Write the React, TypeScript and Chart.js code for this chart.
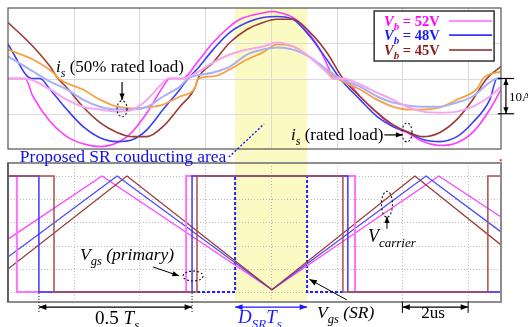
import React, { useEffect, useRef } from "react";
import { Chart, registerables } from "chart.js";

Chart.register(...registerables);

// ---------- axes (time in us, 2 us / division) ----------
const T_MIN = 0;
const T_MAX = 15;
const GRID_T = [2, 4, 6, 8, 10, 12, 14];
const GRID_A = [-10, 0, 10];
const GRID_V = [0, 1, 2, 3, 4, 5];
const TOP_A = [-20, 20];
const BOT_V = [-0.43, 5.56];
const SR_WINDOW = [6.91, 9.1];

// ---------- top panel: i_s (A), rated load ----------
const T_MAG = [0, 0.52, 0.76, 1.28, 1.79, 2.28, 2.8, 3.32, 3.71, 4.23, 4.72, 4.93, 5.32, 5.75, 6.24, 6.75, 7.06, 7.76, 8.05, 8.3, 8.67, 8.97, 9.49, 9.8, 9.89, 10.19, 10.71, 11.23, 11.71, 12.14, 12.63, 13.14, 13.66, 14.14, 14.66, 15];
const I_MAG = [0, 0, -5.1, -12.2, -16.5, -18.5, -19.3, -18.2, -15.8, -9.7, -2.3, 0, 0, 4.5, 10.2, 14.8, 16.8, 18.6, 19.0, 18.6, 17.3, 14.8, 8.2, 2.0, 0, 0, -5.1, -9.7, -13.6, -15.3, -17.9, -19.0, -18.2, -15.3, -8.8, -3.1];

const T_BLU = [0, 0.73, 0.97, 1.28, 1.79, 2.28, 2.8, 3.32, 3.8, 4.23, 4.72, 5.23, 5.48, 5.75, 6.24, 6.75, 7.27, 7.76, 8.18, 8.67, 9.19, 9.7, 10.1, 10.71, 11.23, 11.71, 12.14, 12.63, 13.14, 13.66, 14.14, 14.66, 14.88, 15];
const I_BLU = [9.7, 0, 0, -3.1, -8.8, -13.6, -16.8, -17.9, -17.3, -14.5, -8.8, -3.1, 0, 2.6, 8.2, 13.1, 15.9, 17.3, 17.6, 16.8, 11.9, 5.4, 0, -6.0, -10.8, -13.6, -15.1, -17.3, -17.9, -16.5, -12.5, -6.0, 0, 0];

const T_BRN = [0, 0.76, 1.28, 1.52, 1.79, 2.28, 2.8, 3.32, 3.8, 4.23, 4.72, 5.23, 5.69, 5.78, 6.24, 6.75, 7.27, 7.76, 8.18, 8.67, 9.19, 9.7, 10.19, 10.71, 11.23, 11.71, 12.14, 12.63, 13.14, 13.66, 14.14, 14.57, 15];
const I_BRN = [15.9, 9.1, 3.4, 0, -2.6, -8.0, -12.5, -15.3, -16.5, -16.5, -13.6, -8.0, -2.6, 0, 4.5, 10.2, 13.9, 15.9, 16.8, 16.8, 13.1, 7.4, 0, -5.1, -9.7, -13.1, -15.1, -16.5, -15.3, -11.6, -6.0, 0, 3.4];

// ---------- top panel: i_s (A), 50% rated load ----------
const T_ORA = [0, 0.76, 1.37, 1.58, 2.28, 2.8, 3.32, 3.8, 4.23, 4.72, 5.23, 5.69, 5.78, 6.24, 6.75, 7.27, 7.76, 8.18, 8.67, 9.19, 9.7, 10.01, 10.71, 11.23, 11.71, 12.14, 12.63, 13.14, 13.66, 14.3, 14.45, 15];
const I_ORA = [8.2, 5.4, 1.7, -0.3, -3.1, -6.0, -8.0, -8.5, -8.2, -7.4, -5.1, -2.6, 0, 0.6, 2.6, 5.4, 7.4, 9.7, 9.1, 6.0, 2.0, 0, -3.1, -6.0, -8.0, -8.8, -8.8, -8.2, -6.0, -2.6, 0, 2.0];

const T_LBL = [0, 0.76, 1.28, 1.79, 2.28, 2.8, 3.32, 3.8, 4.23, 4.72, 5.23, 5.48, 6.24, 6.75, 7.27, 7.76, 8.18, 8.67, 9.19, 9.7, 10.1, 10.71, 11.23, 11.71, 12.63, 13.14, 13.66, 14.14, 14.66, 14.88, 15];
const I_LBL = [6.25, 2.0, -0.9, -3.1, -6.0, -8.0, -8.8, -8.8, -8.0, -5.1, -2.3, 0, 1.7, 3.4, 6.8, 8.2, 8.8, 8.2, 6.0, 2.6, 0, -2.3, -5.1, -6.8, -8.0, -8.0, -6.8, -5.1, -1.1, 0, 0];

const T_LPK = [0, 0.52, 1.28, 1.79, 2.28, 2.8, 3.32, 3.8, 4.23, 4.72, 4.87, 5.32, 5.75, 6.24, 6.75, 7.27, 7.76, 8.18, 8.67, 9.19, 9.7, 9.89, 10.19, 10.71, 11.23, 11.71, 12.14, 12.63, 13.14, 13.66, 14.14, 14.66, 15];
const I_LPK = [0, 0, -3.1, -6.0, -8.0, -8.8, -9.4, -8.8, -6.0, -1.1, 0, 0, 1.7, 4.5, 6.8, 8.2, 9.1, 10.2, 9.1, 6.0, 1.7, 0, 0, -1.7, -4.0, -6.0, -8.0, -9.4, -9.7, -9.4, -8.0, -5.1, -2.3];

// ---------- bottom panel: gate signals / carriers (div) ----------
const T_PWM_MAG = [0, 0.27, 0.27, 5.42, 5.42, 10.56, 10.56, 15];
const V_PWM_MAG = [5, 5, 0, 0, 5, 5, 0, 0];
const T_PWM_BLU = [0, 0.94, 0.94, 5.6, 5.6, 10.34, 10.34, 15];
const V_PWM_BLU = [5, 5, 0, 0, 5, 5, 0, 0];
const T_PWM_BRN = [0, 1.4, 1.4, 5.75, 5.75, 10.19, 10.19, 14.6, 14.6, 15];
const V_PWM_BRN = [5, 5, 0, 0, 5, 5, 0, 0, 5, 5];

const T_CAR_MAG = [0, 2.86, 8.03, 13.11, 15];
const V_CAR_MAG = [2.28, 5, 0.1, 5, 3.23];
const T_CAR_BLU = [0, 3.32, 8.03, 12.72, 15];
const V_CAR_BLU = [1.51, 5, 0.1, 5, 2.59];
const T_CAR_BRN = [0, 3.62, 8.03, 12.38, 15];
const V_CAR_BRN = [0.99, 5, 0.1, 5, 2.03];

const T_SR = [5.6, 6.91, 6.91, 9.1, 9.1, 10.22];
const V_SR = [0, 0, 5, 5, 0, 0];

const LEGEND = [
  { label: "52V", text: "#ff00ff", line: "#ff66ff" },
  { label: "48V", text: "#1a1aff", line: "#3535ff" },
  { label: "45V", text: "#8b1a1a", line: "#8b2222" },
];

const pts = (t: number[], v: number[]) => t.map((x, i) => ({ x, y: v[i] }));

const FONT = '"Liberation Serif", "Times New Roman", serif';

type Seg = { t: string; sub?: boolean; it?: boolean; b?: boolean };

function rich(ctx: CanvasRenderingContext2D, x: number, y: number, segs: Seg[], size: number, color: string, subSize?: number) {
  let cx = x;
  ctx.fillStyle = color;
  ctx.textBaseline = "alphabetic";
  ctx.textAlign = "left";
  for (const s of segs) {
    const fs = s.sub ? subSize ?? size * 0.68 : size;
    ctx.font = `${s.it ? "italic " : ""}${s.b ? "bold " : ""}${fs}px ${FONT}`;
    ctx.fillText(s.t, cx, s.sub ? y + size * 0.28 : y);
    cx += ctx.measureText(s.t).width;
  }
  return cx;
}

function head(ctx: CanvasRenderingContext2D, x1: number, y1: number, x2: number, y2: number, size: number) {
  const a = Math.atan2(y2 - y1, x2 - x1);
  ctx.beginPath();
  ctx.moveTo(x2, y2);
  ctx.lineTo(x2 - size * Math.cos(a - 0.38), y2 - size * Math.sin(a - 0.38));
  ctx.lineTo(x2 - size * Math.cos(a + 0.38), y2 - size * Math.sin(a + 0.38));
  ctx.closePath();
  ctx.fill();
}

function arrow(ctx: CanvasRenderingContext2D, x1: number, y1: number, x2: number, y2: number, color: string, both = false, size = 8, lw = 1.2) {
  ctx.strokeStyle = color;
  ctx.fillStyle = color;
  ctx.lineWidth = lw;
  ctx.setLineDash([]);
  ctx.beginPath();
  ctx.moveTo(x1, y1);
  ctx.lineTo(x2, y2);
  ctx.stroke();
  head(ctx, x1, y1, x2, y2, size);
  if (both) head(ctx, x2, y2, x1, y1, size);
}

function dashEllipse(ctx: CanvasRenderingContext2D, cx: number, cy: number, rx: number, ry: number) {
  ctx.save();
  ctx.strokeStyle = "#111";
  ctx.lineWidth = 1.1;
  ctx.setLineDash([2, 2]);
  ctx.beginPath();
  ctx.ellipse(cx, cy, rx, ry, 0, 0, Math.PI * 2);
  ctx.stroke();
  ctx.restore();
}

const scopePlugin = {
  id: "scope",
  beforeDatasetsDraw(chart: any) {
    const { ctx, chartArea: ca, scales } = chart;
    const X = scales.x, YA = scales.yA, YV = scales.yV;
    ctx.save();
    // SR conducting area
    const x0 = X.getPixelForValue(SR_WINDOW[0]);
    const x1 = X.getPixelForValue(SR_WINDOW[1]);
    ctx.fillStyle = "#fafac2";
    ctx.fillRect(x0, ca.top, x1 - x0, YV.getPixelForValue(-0.48) - ca.top);

    // top grid
    const tT = YA.getPixelForValue(TOP_A[1]);
    const tB = YA.getPixelForValue(TOP_A[0]);
    ctx.strokeStyle = "#dadada";
    ctx.lineWidth = 1;
    for (const g of GRID_T) {
      const p = Math.round(X.getPixelForValue(g)) + 0.5;
      ctx.beginPath(); ctx.moveTo(p, tT); ctx.lineTo(p, tB); ctx.stroke();
    }
    for (const g of GRID_A) {
      const p = Math.round(YA.getPixelForValue(g)) + 0.5;
      ctx.beginPath(); ctx.moveTo(ca.left, p); ctx.lineTo(ca.right, p); ctx.stroke();
    }
    // bottom grid (dotted)
    const bT = YV.getPixelForValue(BOT_V[1]);
    const bB = YV.getPixelForValue(BOT_V[0]);
    ctx.strokeStyle = "#bdbdbd";
    ctx.setLineDash([1, 2]);
    for (const g of GRID_T) {
      const p = Math.round(X.getPixelForValue(g)) + 0.5;
      ctx.beginPath(); ctx.moveTo(p, bT); ctx.lineTo(p, bB); ctx.stroke();
    }
    for (const g of GRID_V) {
      const p = Math.round(YV.getPixelForValue(g)) + 0.5;
      ctx.beginPath(); ctx.moveTo(ca.left, p); ctx.lineTo(ca.right, p); ctx.stroke();
    }
    ctx.restore();
  },
  afterDatasetsDraw(chart: any) {
    const { ctx, chartArea: ca, scales } = chart;
    const X = scales.x, YA = scales.yA, YV = scales.yV;
    const px = (t: number) => X.getPixelForValue(t);
    const pa = (a: number) => YA.getPixelForValue(a);
    const pv = (v: number) => YV.getPixelForValue(v);
    ctx.save();

    // panel borders
    const tT = pa(TOP_A[1]), tB = pa(TOP_A[0]);
    const bT = pv(BOT_V[1]), bB = pv(BOT_V[0]);
    ctx.setLineDash([]);
    ctx.strokeStyle = "#555";
    ctx.lineWidth = 1.2;
    ctx.strokeRect(ca.left, tT, ca.right - ca.left, tB - tT);
    ctx.strokeStyle = "#8c8c8c";
    ctx.lineWidth = 2;
    ctx.strokeRect(ca.left, bT, ca.right - ca.left, bB - bT);
    ctx.strokeStyle = "#444";
    ctx.lineWidth = 1.2;
    ctx.beginPath(); ctx.moveTo(ca.left, bT); ctx.lineTo(ca.left, bB); ctx.stroke();
    ctx.fillStyle = "#ff2020";
    ctx.fillRect(px(14.96), pa(-22.9), 2, 2);

    // legend box
    const lx0 = px(11.14), lx1 = px(14.79), ly0 = pa(19.15), ly1 = pa(4.96);
    ctx.fillStyle = "#fff";
    ctx.fillRect(lx0, ly0, lx1 - lx0, ly1 - ly0);
    ctx.strokeStyle = "#222";
    ctx.lineWidth = 1.4;
    ctx.strokeRect(lx0, ly0, lx1 - lx0, ly1 - ly0);
    const rowBase = [14.9, 11.0, 6.6];
    const rowLine = [16.3, 12.3, 8.1];
    LEGEND.forEach((l, i) => {
      rich(ctx, px(11.44), pa(rowBase[i]), [
        { t: "V", it: true, b: true },
        { t: "b", it: true, b: true, sub: true },
        { t: " = " + l.label, b: true },
      ], 14.5, l.text, 11);
      ctx.strokeStyle = l.line;
      ctx.lineWidth = 1.6;
      ctx.beginPath(); ctx.moveTo(px(13.42), pa(rowLine[i])); ctx.lineTo(px(14.73), pa(rowLine[i])); ctx.stroke();
    });

    // i_s (50% rated load)
    rich(ctx, px(1.46), pa(1.8), [{ t: "i", it: true }, { t: "s", it: true, sub: true }, { t: " (50% rated load)" }], 17, "#000", 12);
    arrow(ctx, px(3.47), pa(-1.0), px(3.47), pa(-6.1), "#000", false, 7);
    dashEllipse(ctx, px(3.47), pa(-8.6), 5, 8);

    // i_s (rated load)
    const ex = rich(ctx, px(8.61), pa(-17.5), [{ t: "i", it: true }, { t: "s", it: true, sub: true }, { t: " (rated load)" }], 17, "#000", 12);
    arrow(ctx, ex + 1, pa(-16.0), px(12.0), pa(-16.0), "#000", false, 7);
    dashEllipse(ctx, px(12.14), pa(-15.3), 5, 9.5);

    // 10A
    arrow(ctx, px(15.15), pa(0), px(15.15), pa(-10), "#000", true, 7);
    ctx.strokeStyle = "#000";
    ctx.lineWidth = 1.2;
    for (const a of [0, -10]) {
      ctx.beginPath(); ctx.moveTo(px(14.9), pa(a)); ctx.lineTo(px(15.4), pa(a)); ctx.stroke();
    }
    rich(ctx, px(15.24), pa(-6.4), [{ t: "10A" }], 13, "#000");

    // Proposed SR conducting area
    rich(ctx, px(0.36), pa(-23.7), [{ t: "Proposed SR couducting area" }], 17.5, "#1010ee");
    ctx.strokeStyle = "#1a1aff";
    ctx.lineWidth = 1.4;
    ctx.setLineDash([2, 2]);
    ctx.beginPath(); ctx.moveTo(px(6.72), pa(-22.3)); ctx.lineTo(px(7.79), pa(-12.9)); ctx.stroke();
    ctx.setLineDash([]);

    // V_gs (primary)
    rich(ctx, px(2.19), pv(1.38), [{ t: "V", it: true }, { t: "gs", it: true, sub: true }, { t: " (primary)", it: true }], 17.5, "#000", 12.5);
    arrow(ctx, px(4.41), pv(1.08), px(5.2), pv(0.7), "#000", false, 7, 1);
    dashEllipse(ctx, px(5.63), pv(0.69), 10, 5);

    // 0.5 Ts
    ctx.strokeStyle = "#000";
    ctx.lineWidth = 1;
    ctx.setLineDash([1, 2]);
    for (const t of [0.94, 5.6]) {
      ctx.beginPath(); ctx.moveTo(px(t), pv(-0.04)); ctx.lineTo(px(t), pv(-0.9)); ctx.stroke();
    }
    ctx.setLineDash([]);
    arrow(ctx, px(0.94), pv(-0.65), px(5.6), pv(-0.65), "#000", true, 8);
    rich(ctx, px(2.65), pv(-1.36), [{ t: "0.5 " }, { t: "T", it: true }, { t: "s", it: true, sub: true }], 19, "#000", 13);

    // D_SR Ts
    arrow(ctx, px(SR_WINDOW[0]), pv(-0.65), px(SR_WINDOW[1]), pv(-0.65), "#1a1aff", true, 8, 1.4);
    rich(ctx, px(7.0), pv(-1.32), [{ t: "D", it: true }, { t: "SR", it: true, sub: true }, { t: "T", it: true }, { t: "s", it: true, sub: true }], 19, "#1a1aff", 13);

    // V_gs (SR)
    rich(ctx, px(9.4), pv(-1.12), [{ t: "V", it: true }, { t: "gs", it: true, sub: true }, { t: " (SR)", it: true }], 17.5, "#000", 12.5);
    arrow(ctx, px(10.31), pv(-0.34), px(9.17), pv(0.55), "#000", false, 8, 1);

    // V_carrier
    rich(ctx, px(10.95), pv(2.15), [{ t: "V", it: true }, { t: "carrier", it: true, sub: true }], 18, "#000", 13);
    arrow(ctx, px(11.53), pv(2.72), px(11.53), pv(3.25), "#000", false, 7, 1);
    dashEllipse(ctx, px(11.53), pv(3.78), 5.5, 13);

    // 2us
    ctx.strokeStyle = "#000";
    ctx.lineWidth = 1;
    for (const t of [12, 14]) {
      ctx.beginPath(); ctx.moveTo(px(t), pv(-0.4)); ctx.lineTo(px(t), pv(-0.9)); ctx.stroke();
    }
    arrow(ctx, px(12), pv(-0.65), px(14), pv(-0.65), "#000", true, 8);
    rich(ctx, px(12.57), pv(-1.12), [{ t: "2us" }], 17, "#000");

    ctx.restore();
  },
};

export default function App() {
  const ref = useRef<HTMLCanvasElement | null>(null);
  useEffect(() => {
    if (!ref.current) return;
    const cur = (t: number[], v: number[], color: string, w: number) => ({
      data: pts(t, v), borderColor: color, borderWidth: w, yAxisID: "yA",
      cubicInterpolationMode: "monotone" as const, pointRadius: 0, fill: false,
    });
    const sig = (t: number[], v: number[], color: string, w: number, dash: number[] = []) => ({
      data: pts(t, v), borderColor: color, borderWidth: w, yAxisID: "yV",
      tension: 0, pointRadius: 0, fill: false, borderDash: dash,
    });
    const chart = new Chart(ref.current, {
      type: "line",
      data: {
        datasets: [
          cur(T_LPK, I_LPK, "#f6a6ee", 2),
          cur(T_LBL, I_LBL, "#a9b1f6", 2),
          cur(T_ORA, I_ORA, "#f7a044", 1.8),
          cur(T_BRN, I_BRN, "#9a3b35", 1.6),
          cur(T_BLU, I_BLU, "#3d3dfa", 1.6),
          cur(T_MAG, I_MAG, "#ff3cff", 1.6),
          sig(T_PWM_BRN, V_PWM_BRN, "#a8504a", 1.5),
          sig(T_PWM_BLU, V_PWM_BLU, "#3a3aff", 1.5),
          sig(T_PWM_MAG, V_PWM_MAG, "#ff70ff", 2),
          sig(T_CAR_BRN, V_CAR_BRN, "#9a3b35", 1.3),
          sig(T_CAR_BLU, V_CAR_BLU, "#4a4aff", 1.3),
          sig(T_CAR_MAG, V_CAR_MAG, "#ff44ff", 1.3),
          sig(T_SR, V_SR, "#1f1fff", 2, [3, 2]),
        ] as any,
      },
      options: {
        animation: false,
        responsive: false,
        maintainAspectRatio: false,
        layout: { padding: { left: 8, top: 8, right: 27, bottom: 25 } },
        plugins: { legend: { display: false }, tooltip: { enabled: false } },
        scales: {
          x: { type: "linear", min: T_MIN, max: T_MAX, display: false },
          yA: { type: "linear", min: -63.4, max: 20, display: false },
          yV: { type: "linear", min: -0.43, max: 12.24, display: false },
        },
      },
      plugins: [scopePlugin],
    });
    return () => chart.destroy();
  }, []);
  return (
    <div style={{ position: "absolute", left: 0, top: 0, width: 528, height: 327, background: "#fff" }}>
      <canvas ref={ref} width={528} height={327} style={{ display: "block" }} />
    </div>
  );
}
